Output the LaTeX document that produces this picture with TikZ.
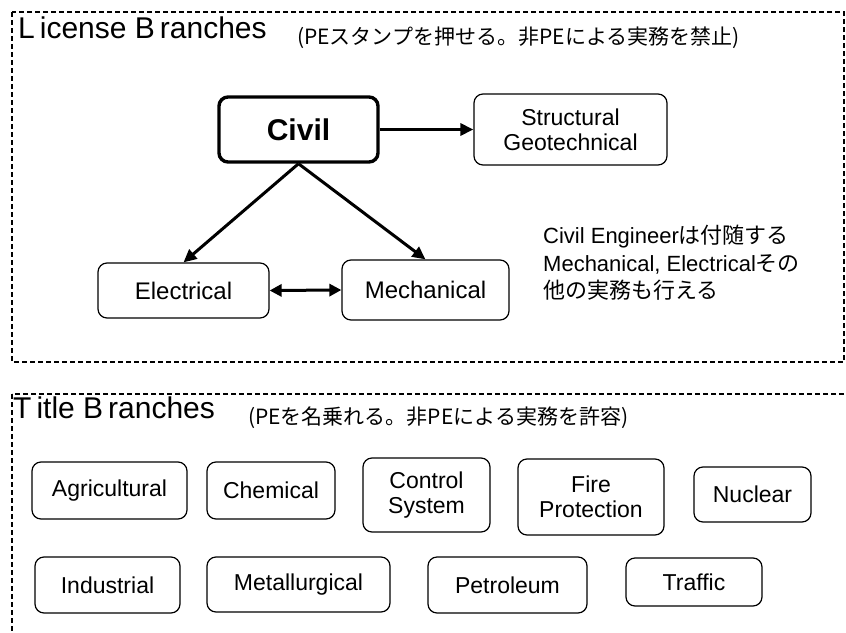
\documentclass[tikz,border=0pt]{standalone}
\usepackage{fontspec}
\setmainfont{Liberation Sans}
\newfontfamily\jp{Noto Sans CJK JP}
\usetikzlibrary{arrows.meta}
\begin{document}
\begin{tikzpicture}[x=1pt,y=-1pt,
  dashframe/.style={draw, line width=2pt, dash pattern=on 5pt off 3pt},
  rbox/.style={draw, rounded corners=9pt, line width=1.2pt, align=center, inner sep=0pt,
    font=\fontsize{23}{25}\selectfont},
  civilbox/.style={rbox, line width=3.4pt, font=\bfseries\fontsize{30}{32}\selectfont},
  title/.style={anchor=base west, inner sep=0pt, font=\fontsize{30}{32}\selectfont},
  subtitle/.style={anchor=base west, inner sep=0pt, font=\jp\fontsize{21}{23}\selectfont},
  conn/.style={line width=3pt, -{Triangle[length=13pt,width=12pt]}},
  dconn/.style={line width=3pt, {Triangle[length=12pt,width=12pt]}-{Triangle[length=12pt,width=12pt]}}
]
\useasboundingbox (0,0) rectangle (846,632);
\clip (0,0) rectangle (846,632);
\fill[white] (0,0) rectangle (846,632);

% frames
\draw[dashframe] (12,12) rectangle (844,362);
\draw[dashframe] (12,394) rectangle (870,660);

% titles
\node[title] (lt) at (18,38) {L\kern5pt icense B\kern5pt ranches};
\node[subtitle] (ls) at (297,44) {(PEスタンプを押せる。非PEによる実務を禁止)};
\node[title] (tt) at (13,418) {T\kern5pt itle B\kern5pt ranches};
\node[subtitle] (ts) at (248,424) {(PEを名乗れる。非PEによる実務を許容)};

% license branch nodes
\node[civilbox, minimum width=159pt, minimum height=65pt] (civil) at (298.5,129.5) {Civil};
\node[rbox, minimum width=193pt, minimum height=71pt] (struct) at (570.5,129.5) {Structural\\Geotechnical};
\node[rbox, minimum width=171pt, minimum height=55pt, font=\fontsize{24}{26}\selectfont] (elec) at (183.5,290.5) {Electrical};
\node[rbox, minimum width=167pt, minimum height=60pt, font=\fontsize{24}{26}\selectfont] (mech) at (425.5,290) {Mechanical};

\draw[conn] (civil.east) -- (struct.west);
\draw[conn] (civil.south) -- (elec.north);
\draw[conn] (civil.south) -- (mech.north);
\draw[dconn] (elec.east) -- (mech.west);

\node[anchor=north west, inner sep=0pt, align=left, font=\fontsize{22}{27.5}\selectfont] (note) at (543,225)
  {Civil Engineer{\jp は付随する}\\Mechanical, Electrical{\jp その}\\{\jp 他の実務も行える}};

% title branch nodes
\node[rbox, minimum width=155pt, minimum height=57pt] (agri) at (109.5,490.5) {Agricultural};
\node[rbox, minimum width=128pt, minimum height=57pt] (chem) at (271,490.5) {Chemical};
\node[rbox, minimum width=127pt, minimum height=74pt] (ctrl) at (426.5,495) {Control\\System};
\node[rbox, minimum width=146pt, minimum height=76pt] (fire) at (591,497) {Fire\\Protection};
\node[rbox, minimum width=117pt, minimum height=55pt] (nucl) at (752.5,494.5) {Nuclear};
\node[rbox, minimum width=145pt, minimum height=56pt] (indu) at (107.5,585) {Industrial};
\node[rbox, minimum width=183pt, minimum height=55pt] (meta) at (298.5,584.5) {Metallurgical};
\node[rbox, minimum width=159pt, minimum height=56pt] (petr) at (507.5,585) {Petroleum};
\node[rbox, minimum width=136pt, minimum height=48pt] (traf) at (694,582) {Traffic};
\end{tikzpicture}
\end{document}
